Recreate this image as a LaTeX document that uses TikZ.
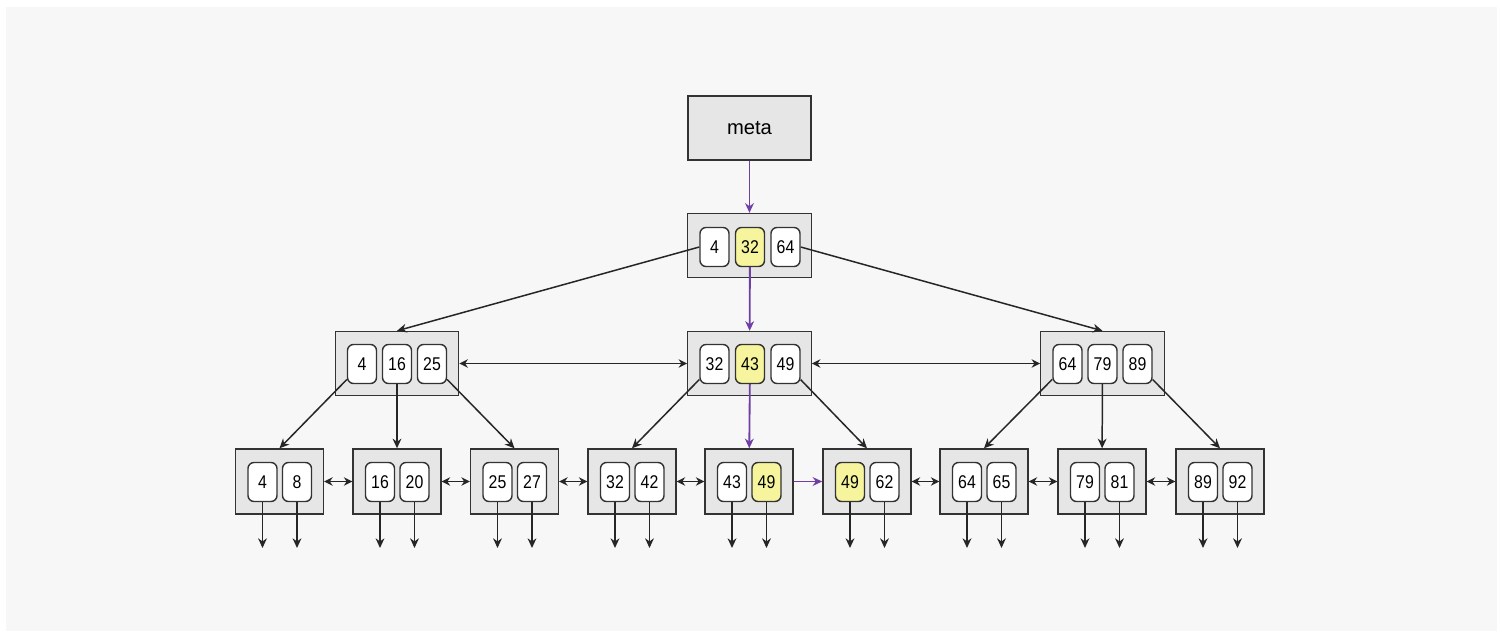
\documentclass[tikz,border=0pt]{standalone}
\usepackage{fontspec}
\setmainfont{Liberation Sans}
\newfontfamily\keyfont[FakeStretch=0.86]{Liberation Sans}
\usetikzlibrary{arrows.meta}
\definecolor{bgcol}{HTML}{F7F7F7}
\definecolor{boxcol}{HTML}{E6E6E6}
\definecolor{edgecol}{HTML}{333333}
\definecolor{hitcol}{HTML}{F6F49C}
\definecolor{pathcol}{HTML}{6F3FA6}

\begin{document}
\begin{tikzpicture}[x=0.02cm, y=-0.02cm,
    page/.style={draw=edgecol, fill=boxcol, line width=.8pt, inner sep=0pt},
    inner/.style={page, minimum width=2.47cm, minimum height=1.28cm},
    leaf/.style={page, minimum width=1.76cm, minimum height=1.3cm},
    key/.style={draw=edgecol, fill=white, line width=.8pt, rounded corners=.12cm,
        minimum width=.58cm, minimum height=.78cm, inner sep=0pt,
        font=\keyfont\fontsize{10.5}{12}\selectfont},
    hit/.style={key, fill=hitcol},
    ptr/.style={-{Stealth[length=5.5pt,width=5pt]}, line width=.85pt, draw=black!85},
    sib/.style={{Stealth[length=4.8pt,width=4.8pt]}-{Stealth[length=4.8pt,width=4.8pt]}, line width=.85pt, draw=black!85},
    hot/.style={ptr, line width=1.05pt, draw=pathcol, fill=pathcol}]

        \useasboundingbox (0,0) rectangle (1502,642);
        \fill[bgcol] (6,7) rectangle (1497,631);

        % meta page and root
        \node (meta) at (749.5,128) [page, minimum width=2.46cm, minimum height=1.28cm,
            font=\fontsize{11.5}{13}\selectfont] {meta};
        \node (root) at (749.5,245.5) [inner] {};
        \node (r4) at (714.5,247) [key] {4};
        \node (r32) at (750,247) [hit] {32};
        \node (r64) at (785.5,247) [key] {64};

        % branch pages
        \node (lft) at (397,363.5) [inner] {};
        \node (l4) at (362,364) [key] {4};
        \node (l16) at (397,364) [key] {16};
        \node (l25) at (432,364) [key] {25};
        \node (mid) at (749.5,363.5) [inner] {};
        \node (m32) at (714.5,364) [key] {32};
        \node (m43) at (750,364) [hit] {43};
        \node (m49) at (785.5,364) [key] {49};
        \node (rgt) at (1102.5,363.5) [inner] {};
        \node (g64) at (1067.5,364) [key] {64};
        \node (g79) at (1102.5,364) [key] {79};
        \node (g89) at (1137.5,364) [key] {89};

        % leaf pages
        \node (f1) at (279.5,481.5) [leaf] {};
        \node (f1a) at (262.5,482) [key] {4};
        \node (f1b) at (297,482) [key] {8};
        \node (f2) at (397,481.5) [leaf] {};
        \node (f2a) at (380,482) [key] {16};
        \node (f2b) at (414.5,482) [key] {20};
        \node (f3) at (514.5,481.5) [leaf] {};
        \node (f3a) at (497.5,482) [key] {25};
        \node (f3b) at (532,482) [key] {27};
        \node (f4) at (632,481.5) [leaf] {};
        \node (f4a) at (615,482) [key] {32};
        \node (f4b) at (649.5,482) [key] {42};
        \node (f5) at (749,481.5) [leaf] {};
        \node (f5a) at (732,482) [key] {43};
        \node (f5b) at (766.5,482) [hit] {49};
        \node (f6) at (867,481.5) [leaf] {};
        \node (f6a) at (850,482) [hit] {49};
        \node (f6b) at (884.5,482) [key] {62};
        \node (f7) at (984,481.5) [leaf] {};
        \node (f7a) at (967,482) [key] {64};
        \node (f7b) at (1001.5,482) [key] {65};
        \node (f8) at (1102,481.5) [leaf] {};
        \node (f8a) at (1085,482) [key] {79};
        \node (f8b) at (1119.5,482) [key] {81};
        \node (f9) at (1220,481.5) [leaf] {};
        \node (f9a) at (1203,482) [key] {89};
        \node (f9b) at (1237.5,482) [key] {92};
        \coordinate (bot) at (0,548);

        % search path
        \draw[hot] (meta) -- (root);
        \draw[hot] (r32) -- (mid);
        \draw[hot] (m43) -- (f5);
        \draw[hot] (f5) -- (f6);

        \draw[ptr] (r4.west) -- (lft.north);
        \draw[ptr] (r64.east) -- (rgt.north);
        \draw[ptr] (l4) -- (f1.north);
        \draw[ptr] (l16) -- (f2);
        \draw[ptr] (l25) -- (f3.north);
        \draw[ptr] (m32) -- (f4.north);
        \draw[ptr] (m49) -- (f6.north);
        \draw[ptr] (g64) -- (f7.north);
        \draw[ptr] (g79) -- (f8);
        \draw[ptr] (g89) -- (f9.north);

        \draw[sib] (lft) -- (mid);
        \draw[sib] (mid) -- (rgt);
        \draw[sib] (f1) -- (f2);
        \draw[sib] (f2) -- (f3);
        \draw[sib] (f3) -- (f4);
        \draw[sib] (f4) -- (f5);
        \draw[sib] (f6) -- (f7);
        \draw[sib] (f7) -- (f8);
        \draw[sib] (f8) -- (f9);

        \foreach \k in {f1a,f1b,f2a,f2b,f3a,f3b,f4a,f4b,f5a,f5b,f6a,f6b,f7a,f7b,f8a,f8b,f9a,f9b}
          \draw[ptr] (\k.south) -- (\k.south |- bot);

        \end{tikzpicture}
\end{document}
